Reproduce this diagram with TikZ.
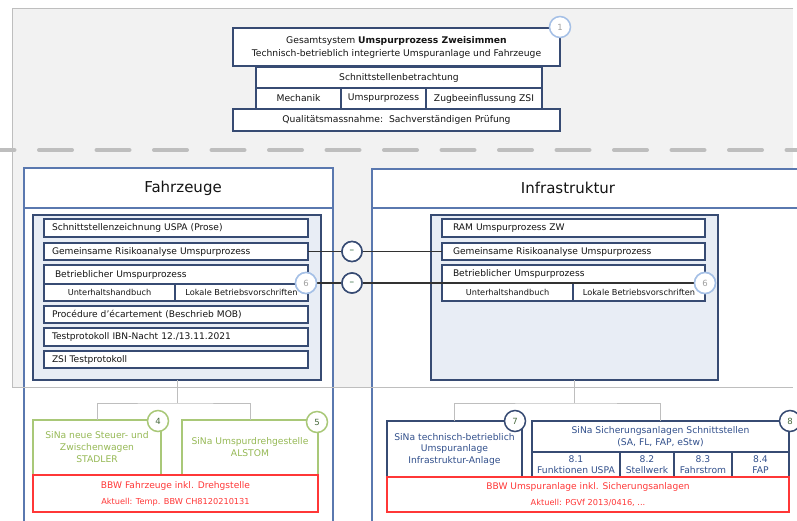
\documentclass[tikz,border=0pt]{standalone}
\usepackage{fontspec}
\setmainfont{DejaVu Sans}
\definecolor{navy}{RGB}{55,75,115}
\definecolor{bigblue}{RGB}{90,120,175}
\definecolor{panelfill}{RGB}{232,237,245}
\definecolor{bgg}{RGB}{242,242,242}
\definecolor{bgline}{RGB}{190,190,190}
\definecolor{gbord}{RGB}{169,200,120}
\definecolor{gtext}{RGB}{150,185,85}
\definecolor{redc}{RGB}{255,55,55}
\definecolor{lblue}{RGB}{165,192,230}
\definecolor{numgrey}{RGB}{160,160,160}
\definecolor{numgreen}{RGB}{70,105,60}
\definecolor{btext}{RGB}{50,80,140}
\definecolor{txt}{RGB}{20,20,20}
\definecolor{connc}{RGB}{50,50,50}
\begin{document}
\begin{tikzpicture}[x=1pt,y=-1pt,
  rbox/.style={draw=navy, line width=1.3pt, fill=white, inner sep=0pt, outer sep=0pt, anchor=north west, align=center, text=txt},
  item/.style={rbox, minimum width=264pt, minimum height=17pt, inner xsep=8pt, text width=248pt, align=left, font=\fontsize{9.1}{11}\selectfont},
  itemI/.style={rbox, minimum width=263pt, minimum height=17pt, inner xsep=11pt, text width=241pt, align=left, font=\fontsize{9.1}{11}\selectfont},
  cellbox/.style={rbox, font=\fontsize{8.2}{10}\selectfont},
  hdrbox/.style={rbox, font=\fontsize{9.2}{13}\selectfont},
  bigbox/.style={draw=bigblue, line width=1.2pt, fill=white, inner sep=0pt, outer sep=0pt, anchor=north west},
  titletext/.style={font=\fontsize{15}{18}\selectfont, text=txt, inner sep=0pt},
  panel/.style={draw=navy, line width=1.8pt, fill=panelfill, inner sep=0pt, outer sep=0pt, anchor=north west},
  greenbox/.style={draw=gbord, line width=1.3pt, fill=white, inner sep=0pt, outer sep=0pt, anchor=north west, align=center, text=gtext, font=\fontsize{9.2}{12}\selectfont},
  bluebox/.style={rbox, text=btext, font=\fontsize{9.2}{11.5}\selectfont},
  redbox/.style={draw=redc, line width=1.3pt, fill=white, inner sep=0pt, outer sep=0pt, anchor=north west, align=center, text=redc, font=\fontsize{9.1}{16}\selectfont},
  circl/.style={circle, draw=lblue, line width=1.5pt, fill=white, minimum size=21pt, inner sep=0pt, text=numgrey, font=\fontsize{8.5}{8.5}\selectfont},
  circg/.style={circle, draw=gbord, line width=1.5pt, fill=white, minimum size=21pt, inner sep=0pt, text=numgreen, font=\fontsize{8.5}{8.5}\selectfont},
  circn/.style={circle, draw=navy, line width=1.5pt, fill=white, minimum size=21pt, inner sep=0pt, text=numgreen, font=\fontsize{8.5}{8.5}\selectfont},
  eqc/.style={circle, draw=navy, line width=1.5pt, fill=white, minimum size=20pt, inner sep=0pt, text={rgb,255:red,110;green,150;blue,120}, font=\fontsize{6}{6}\selectfont},
  conn/.style={draw=connc, line width=1.5pt},
  tree/.style={draw=bgline, line width=1pt}
]
\useasboundingbox (0,0) rectangle (797,520);
\clip (0,0) rectangle (797,520);
\fill[white] (0,0) rectangle (797,520);
% grey background region
\fill[bgg] (12,8) rectangle (793,387);
% dashed separator
\draw[bgline, line width=4pt, line cap=round, dash pattern=on 33pt off 24.5pt] (-18.5,150) -- (800,150);

% top group
\node[hdrbox, minimum width=327pt, minimum height=38pt] (gs) at (233,28) {Gesamtsystem \textbf{Umspurprozess Zweisimmen}\\Technisch-betrieblich integrierte Umspuranlage und Fahrzeuge};
\node[hdrbox, minimum width=286pt, minimum height=21pt] (sb) at (256,67) {Schnittstellenbetrachtung};
\node[hdrbox, minimum width=85pt, minimum height=21pt] (mech) at (256,88) {Mechanik};
\node[hdrbox, minimum width=85pt, minimum height=21pt] (usp) at (341,88) {Umspurprozess};
\node[hdrbox, minimum width=116pt, minimum height=21pt] (zsi) at (426,88) {Zugbeeinflussung ZSI};
\node[hdrbox, minimum width=327pt, minimum height=22pt] (qm) at (233,109) {Qualitätsmassnahme:\ \ Sachverständigen Prüfung};
\node[circl] (c1) at (560,27) {1};

% big boxes
\node[bigbox, minimum width=309pt, minimum height=380pt] (fz) at (24,168) {};
\node[bigbox, minimum width=309pt, minimum height=40pt] (fzT) at (24,168) {};
\node[titletext] (fzTxt) at (183,188) {Fahrzeuge};
\node[bigbox, minimum width=450pt, minimum height=380pt] (inf) at (372,169) {};
\node[bigbox, minimum width=450pt, minimum height=39pt] (infT) at (372,169) {};
\node[titletext] (infTxt) at (568,188) {Infrastruktur};

% grey outline of background region
\draw[bgline, line width=1pt] (793,8) -- (12,8) -- (12,387) -- (793,387);

% panels
\node[panel, minimum width=288pt, minimum height=165pt] (pF) at (33,215) {};
\node[panel, minimum width=287pt, minimum height=165pt] (pI) at (431,215) {};

% Fahrzeuge items
\node[item, minimum height=18pt] (f1) at (44,219) {Schnittstellenzeichnung USPA (Prose)};
\node[item] (f2) at (44,243) {Gemeinsame Risikoanalyse Umspurprozess};
\node[item, minimum height=19pt, inner xsep=11pt, text width=242pt] (f3) at (44,265) {Betrieblicher Umspurprozess};
\node[cellbox, minimum width=131pt, minimum height=17pt] (f3a) at (44,284) {Unterhaltshandbuch};
\node[cellbox, minimum width=133pt, minimum height=17pt] (f3b) at (175,284) {Lokale Betriebsvorschriften};
\node[item] (f4) at (44,306) {Procédure d'écartement (Beschrieb MOB)};
\node[item, minimum height=18pt] (f5) at (44,328) {Testprotokoll IBN-Nacht 12./13.11.2021};
\node[item] (f6) at (44,351) {ZSI Testprotokoll};

% Infrastruktur items
\node[itemI, minimum height=18pt] (i1) at (442,219) {RAM Umspurprozess ZW};
\node[itemI] (i2) at (442,243) {Gemeinsame Risikoanalyse Umspurprozess};
\node[itemI, minimum height=18pt] (i3) at (442,265) {Betrieblicher Umspurprozess};
\node[cellbox, minimum width=131pt, minimum height=18pt] (i3a) at (442,283) {Unterhaltshandbuch};
\node[cellbox, minimum width=132pt, minimum height=18pt] (i3b) at (573,283) {Lokale Betriebsvorschriften};

% equality links
\node[eqc] (e1) at (352,251.5) {=};
\node[eqc] (e2) at (352,283) {=};
\node[circl] (c6F) at (306,283) {6};
\node[circl] (c6I) at (705,283) {6};
\draw[conn] (f2.east) -- (e1.west);
\draw[conn] (e1.east) -- (i2.west);
\draw[conn] (c6F.east) -- (e2.west);
\draw[conn] (e2.east) -- (c6I.west);
\node[eqc] at (e1) {=};
\node[eqc] at (e2) {=};
\node[circl] at (c6F) {6};
\node[circl] at (c6I) {6};

% Fahrzeuge lower boxes
\node[greenbox, minimum width=128pt, minimum height=55pt] (s4) at (33,420) {SiNa neue Steuer- und\\Zwischenwagen\\STADLER};
\node[greenbox, minimum width=136pt, minimum height=55pt] (s5) at (182,420) {SiNa Umspurdrehgestelle\\ALSTOM};
\node[redbox, minimum width=285pt, minimum height=37pt] (bF) at (33,475) {BBW Fahrzeuge inkl. Drehgstelle\\{\fontsize{8.2}{10}\selectfont Aktuell: Temp. BBW CH8120210131}};
\node[circg] (c4) at (158,421) {4};
\node[circg] (c5) at (317,422) {5};
\coordinate (jF) at (177,403);
\draw[tree] (pF.south) -- (jF);
\draw[tree] (s4.north) |- (jF) -| (s5.north);

% Infrastruktur lower boxes
\node[bluebox, minimum width=135pt, minimum height=56pt] (s7) at (387,421) {SiNa technisch-betrieblich\\Umspuranlage\\Infrastruktur-Anlage};
\node[bluebox, minimum width=257pt, minimum height=31pt] (s8) at (532,421) {SiNa Sicherungsanlagen Schnittstellen\\(SA, FL, FAP, eStw)};
\node[bluebox, minimum width=88pt, minimum height=25pt] (s81) at (532,452) {8.1\\Funktionen USPA};
\node[bluebox, minimum width=54pt, minimum height=25pt] (s82) at (620,452) {8.2\\Stellwerk};
\node[bluebox, minimum width=58pt, minimum height=25pt] (s83) at (674,452) {8.3\\Fahrstrom};
\node[bluebox, minimum width=57pt, minimum height=25pt] (s84) at (732,452) {8.4\\FAP};
\node[redbox, minimum width=402pt, minimum height=35pt] (bI) at (387,477) {BBW Umspuranlage inkl. Sicherungsanlagen\\{\fontsize{8.2}{10}\selectfont Aktuell: PGVf 2013/0416, ...}};
\node[circn] (c7) at (515,421) {7};
\node[circn] (c8) at (790,421) {8};
\coordinate (jI) at (574.5,403);
\draw[tree] (pI.south) -- (jI);
\draw[tree] (s7.north) |- (jI) -| (s8.north);
\end{tikzpicture}
\end{document}
